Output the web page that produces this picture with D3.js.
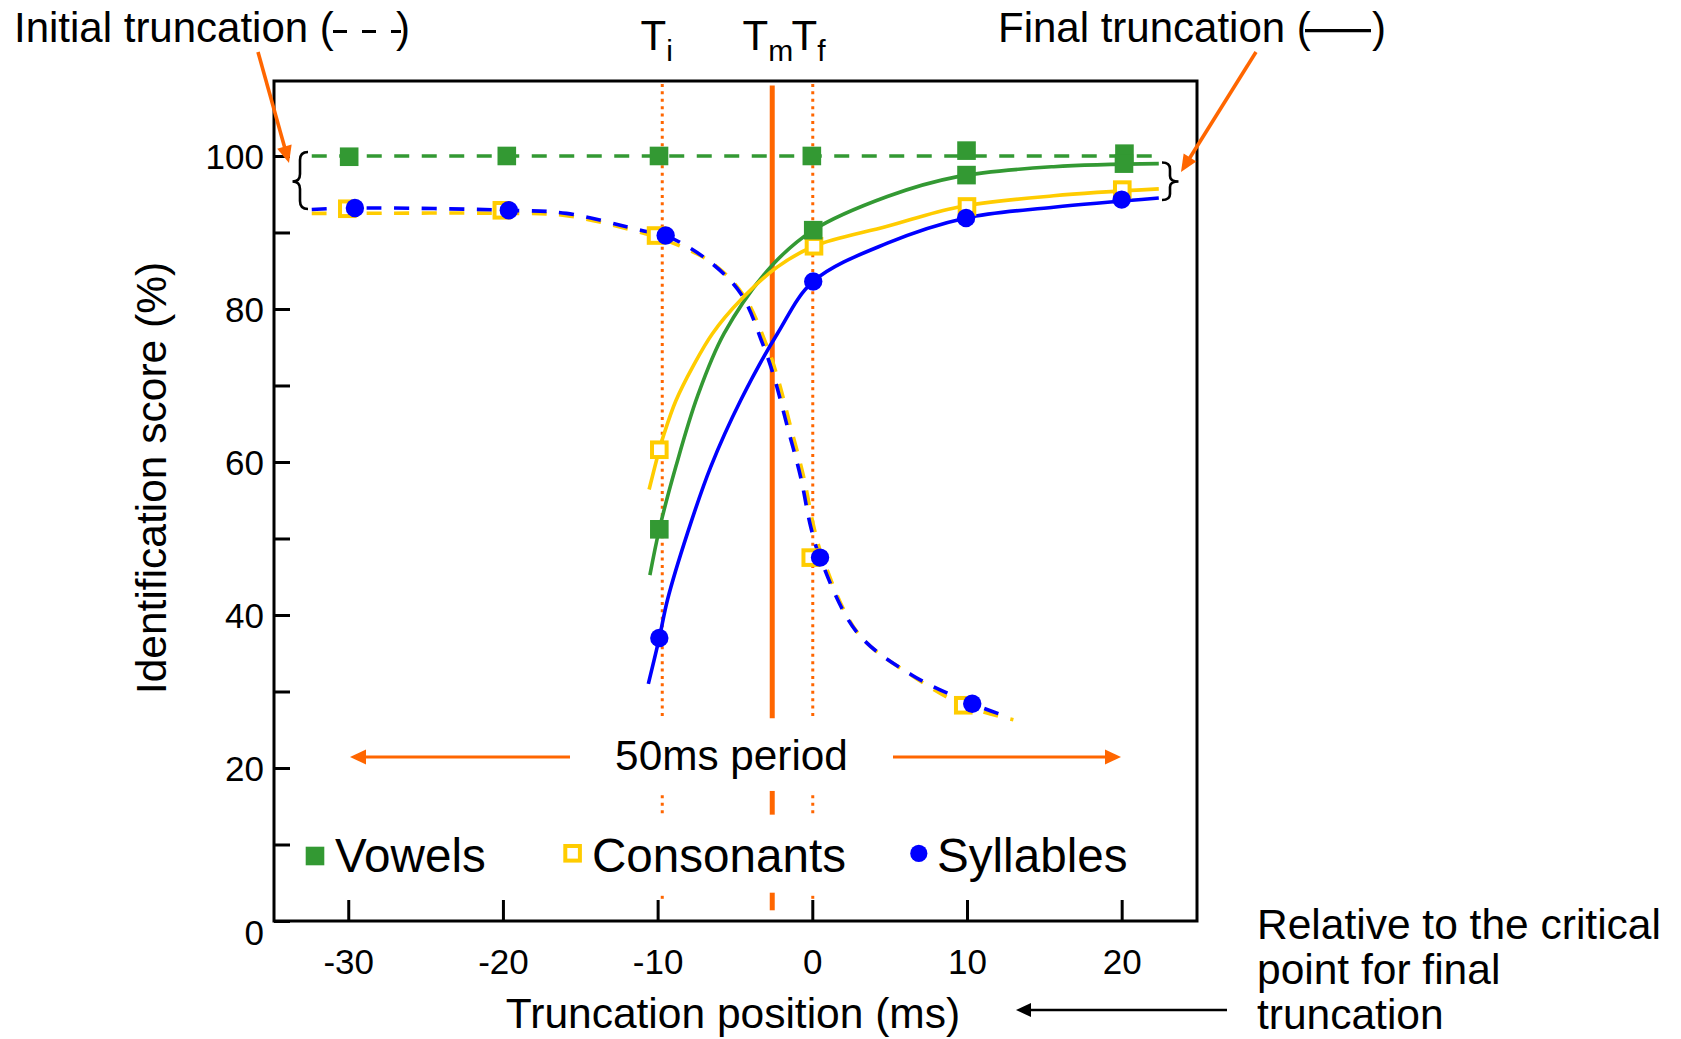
<!DOCTYPE html>
<html><head><meta charset="utf-8">
<script src="https://cdn.jsdelivr.net/npm/d3@7"></script>
<style>
body{margin:0;background:#fff;}
text{font-family:"Liberation Sans",Arial,Helvetica,sans-serif;fill:#000;}
</style>
</head><body>
<svg id="chart" width="1681" height="1039"></svg>
<script>
// ---------- data ----------
const xTickValues = [-30, -20, -10, 0, 10, 20];
const yTickValues = [0, 10, 20, 30, 40, 50, 60, 70, 80, 90, 100];
const yLabelValues = [0, 20, 40, 60, 80, 100];

// markers (x = truncation position ms, y = identification score %)
const vowelsInitialX = [-29.94, -19.75, -9.91, -0.03, 9.97, 20.18];
const vowelsInitialY = [99.9, 100, 100, 100, 100.7, 100.3];
const vowelsFinalX = [-9.89, 0.06, 9.97, 20.15];
const vowelsFinalY = [51.2, 90.3, 97.5, 99.0];
const consonantsInitialX = [-30.06, -20.07, -10.1, -0.1, 9.76];
const consonantsInitialY = [93.1, 92.9, 89.6, 47.5, 28.2];
const consonantsFinalX = [-9.89, 0.11, 10.0, 20.04];
const consonantsFinalY = [61.6, 88.2, 93.4, 95.6];
const syllablesInitialX = [-29.57, -19.62, -9.48, 0.5, 10.34];
const syllablesInitialY = [93.2, 92.9, 89.6, 47.5, 28.4];
const syllablesFinalX = [-9.89, 0.06, 9.94, 20.0];
const syllablesFinalY = [37.0, 83.6, 91.9, 94.3];

// fitted curves
const vowelsInitialCurve = [[-32.36, 100], [22.4, 100]];
const vowelsFinalCurve = [[-10.5,45.2],[-9.89,51.2],[-8.82,59.4],[-7.42,68.6],[-5.7,76.8],[-2.69,85.5],[0.06,90.3],[4.85,94.7],[9.4,97.3],[15.6,98.6],[22.4,99.0]];
const consonantsInitialCurve = [[-32.36,92.5],[-30,92.5],[-20,92.5],[-15.9,92.2],[-10.9,89.9],[-10.05,89.4],[-6.6,86.2],[-4.45,81.8],[-3.0,75.5],[-2.25,71.1],[-1.4,64.6],[-0.55,58.0],[0.1,51.5],[0.7,47.3],[3.0,37.5],[6.5,32.0],[9.8,28.2],[13.0,26.3]];
const consonantsFinalCurve = [[-10.55,56.4],[-9.89,61.6],[-9.58,63.7],[-8.82,68.0],[-7.74,72.4],[-6.45,76.8],[-4.62,81.2],[-2.25,85.5],[0.11,88.2],[4.85,90.8],[9.4,93.3],[15.6,94.8],[22.4,95.7]];
const syllablesInitialCurve = [[-32.36,93.0],[-29.57,93.2],[-19.62,92.9],[-15.9,92.5],[-10.9,90.2],[-9.48,89.6],[-6.77,86.4],[-4.62,82.0],[-3.22,75.5],[-2.47,71.1],[-1.61,64.6],[-0.75,58.0],[-0.1,51.5],[0.5,47.5],[2.9,37.7],[6.4,32.2],[10.34,28.4],[12.6,26.7]];
const syllablesFinalCurve = [[-10.6,31.0],[-9.89,37.0],[-9.36,42],[-8.07,50.7],[-6.56,59.4],[-4.62,68.1],[-2.25,76.8],[0.06,83.6],[4.85,88.6],[9.94,91.9],[15.6,93.3],[22.4,94.5]];

// reference time markers
const tInitial = -9.70, tMiddle = -2.59, tFinal = 0.03;
const legendNames = ["Vowels", "Consonants", "Syllables"];

// ---------- drawing ----------
const C = {green:"#339933", yellow:"#FFCC00", blue:"#0000FF", orange:"#FF6600"};
const svg = d3.select("#chart");
const x = d3.scaleLinear().domain([-34.8, 24.87]).range([274, 1197]);
const y = d3.scaleLinear().domain([0, 109.8]).range([921, 81]);

// orange vertical lines (broken where text sits)
function vseg(xv, y0, y1, w, dash){
  svg.append("line").attr("x1",x(xv)).attr("x2",x(xv)).attr("y1",y(y0)).attr("y2",y(y1))
    .attr("stroke",C.orange).attr("stroke-width",w).attr("stroke-dasharray",dash||null);
}
[[1.4,3.7],[13.9,17.0],[26.5,109.2]].forEach(s=>vseg(tMiddle,s[0],s[1],5));
[tInitial,tFinal].forEach(t=>{
  [[2.9,3.3],[14.1,17.0],[26.8,109.8]].forEach(s=>vseg(t,s[0],s[1],3,"3,4.4"));
});

// box
svg.append("rect").attr("x",x(-34.8)).attr("y",y(109.8)).attr("width",x(24.87)-x(-34.8))
  .attr("height",y(0)-y(109.8)).attr("fill","none").attr("stroke","#000").attr("stroke-width",3);

// axes
const fontFam = '"Liberation Sans",Arial,Helvetica,sans-serif';
const xAxis = d3.axisBottom(x).tickValues(xTickValues).tickSizeInner(-21).tickSizeOuter(0).tickPadding(28)
  .tickFormat(d=>String(d));
svg.append("g").attr("transform",`translate(0,${y(0)})`).call(xAxis)
  .call(g=>g.select(".domain").remove())
  .call(g=>g.selectAll(".tick line").attr("stroke","#000").attr("stroke-width",3))
  .call(g=>g.selectAll(".tick text").attr("font-size",35).attr("font-family",fontFam).attr("fill","#000"));

const yAxis = d3.axisLeft(y).tickValues(yTickValues).tickSizeInner(-16).tickSizeOuter(0).tickPadding(10)
  .tickFormat(d=> yLabelValues.includes(d) ? String(d) : "");
svg.append("g").attr("transform",`translate(${x(-34.8)},0)`).call(yAxis)
  .call(g=>g.select(".domain").remove())
  .call(g=>g.selectAll(".tick line").attr("stroke","#000").attr("stroke-width",3))
  .call(g=>g.selectAll(".tick text").attr("font-size",35).attr("font-family",fontFam).attr("fill","#000")
     .attr("dy", d=> d===0 ? "0.68em" : "0.35em"));

// curves
const line = d3.line().x(d=>x(d[0])).y(d=>y(d[1])).curve(d3.curveCatmullRom.alpha(0.5));
function curve(data,color,dash){
  svg.append("path").attr("d",line(data)).attr("fill","none").attr("stroke",color)
    .attr("stroke-width",3.6).attr("stroke-dasharray",dash||null);
}
curve(vowelsInitialCurve,C.green,"15,12.5");
curve(consonantsInitialCurve,C.yellow,"15,12.5");
curve(syllablesInitialCurve,C.blue,"15,12.5");
curve(vowelsFinalCurve,C.green);
curve(consonantsFinalCurve,C.yellow);
curve(syllablesFinalCurve,C.blue);

// markers
function squares(xs,ys){
  svg.append("g").selectAll("rect").data(xs).join("rect")
    .attr("x",(d)=>x(d)-9.3).attr("y",(d,i)=>y(ys[i])-9.3).attr("width",18.6).attr("height",18.6)
    .attr("fill",C.green);
}
function hollow(xs,ys){
  svg.append("g").selectAll("rect").data(xs).join("rect")
    .attr("x",(d)=>x(d)-7.3).attr("y",(d,i)=>y(ys[i])-7.3).attr("width",14.6).attr("height",14.6)
    .attr("fill","#fff").attr("stroke",C.yellow).attr("stroke-width",4);
}
function dots(xs,ys){
  svg.append("g").selectAll("circle").data(xs).join("circle")
    .attr("cx",(d)=>x(d)).attr("cy",(d,i)=>y(ys[i])).attr("r",9.2).attr("fill",C.blue);
}
hollow(consonantsInitialX,consonantsInitialY);
hollow(consonantsFinalX,consonantsFinalY);
squares(vowelsInitialX,vowelsInitialY);
squares(vowelsFinalX,vowelsFinalY);
dots(syllablesInitialX,syllablesInitialY);
dots(syllablesFinalX,syllablesFinalY);

// braces
svg.append("path").attr("d","M308,152 Q300,152 300,160 L300,174 Q300,181.5 292.5,181.5 Q300,181.5 300,189 L300,201 Q300,209 308,209")
  .attr("fill","none").attr("stroke","#000").attr("stroke-width",2.6);
svg.append("path").attr("d","M1162,162.5 Q1170,162.5 1170,169 L1170,176 Q1170,181.5 1178.5,181.5 Q1170,181.5 1170,187 L1170,194 Q1170,200 1162,200")
  .attr("fill","none").attr("stroke","#000").attr("stroke-width",2.6);

// arrows
function arrow(x1,y1,x2,y2,color,w,hl,hw){
  const a=Math.atan2(y2-y1,x2-x1), c=Math.cos(a), s=Math.sin(a);
  const bx=x2-hl*c, by=y2-hl*s;
  svg.append("line").attr("x1",x1).attr("y1",y1).attr("x2",bx+2*c).attr("y2",by+2*s)
    .attr("stroke",color).attr("stroke-width",w);
  svg.append("path").attr("d",`M${x2},${y2} L${bx - hw*s},${by + hw*c} L${bx + hw*s},${by - hw*c} Z`).attr("fill",color);
}
arrow(258,52,289,163,C.orange,3.6,17,7.5);
arrow(1256,52,1181,172,C.orange,3.6,17,7.5);
arrow(570,757,350,757,C.orange,3.2,16,7.5);
arrow(893,757,1121,757,C.orange,3.2,16,7.5);
arrow(1227,1010,1016,1010,"#000",2.6,15,7);

// texts
const T = (tx,ty,str,size,anchor)=>svg.append("text").attr("x",tx).attr("y",ty).attr("font-size",size)
  .attr("text-anchor",anchor||"start").text(str);
T(14,42,"Initial truncation (",42);
svg.append("line").attr("x1",333).attr("x2",401).attr("y1",31.5).attr("y2",31.5)
  .attr("stroke","#000").attr("stroke-width",3.2).attr("stroke-dasharray","14,15");
T(396,42,")",42);
T(998,42,"Final truncation (",42);
svg.append("line").attr("x1",1305).attr("x2",1371).attr("y1",30.7).attr("y2",30.7)
  .attr("stroke","#000").attr("stroke-width",3.2);
T(1372,42,")",42);

function tSub(tx,main,sub){
  const t=svg.append("text").attr("x",tx).attr("y",49.5).attr("font-size",42);
  t.append("tspan").text(main);
  t.append("tspan").attr("dy",11).attr("font-size",30).text(sub);
}
tSub(640.5,"T","i");
tSub(742.5,"T","m");
tSub(791.5,"T","f");

T(731.5,770,"50ms period",42.3,"middle");
svg.append("text").attr("transform","translate(166,478) rotate(-90)").attr("text-anchor","middle")
  .attr("font-size",42.5).text("Identification score (%)");
T(733,1028,"Truncation position (ms)",42.5,"middle");
T(1257,939,"Relative to the critical",42.5);
T(1257,984,"point for final",42.5);
T(1257,1029,"truncation",42.5);

// legend
const lg = svg.append("g");
lg.append("rect").attr("x",305.7).attr("y",846.7).attr("width",18.6).attr("height",18.6).attr("fill",C.green);
lg.append("rect").attr("x",565.3).attr("y",846).attr("width",14.6).attr("height",14.6)
  .attr("fill","#fff").attr("stroke",C.yellow).attr("stroke-width",4);
lg.append("circle").attr("cx",918.8).attr("cy",853.4).attr("r",8.6).attr("fill",C.blue);
const lgX=[335,592,937];
legendNames.forEach((n,i)=>T(lgX[i],871.5,n,47.6));
</script>
</body></html>
